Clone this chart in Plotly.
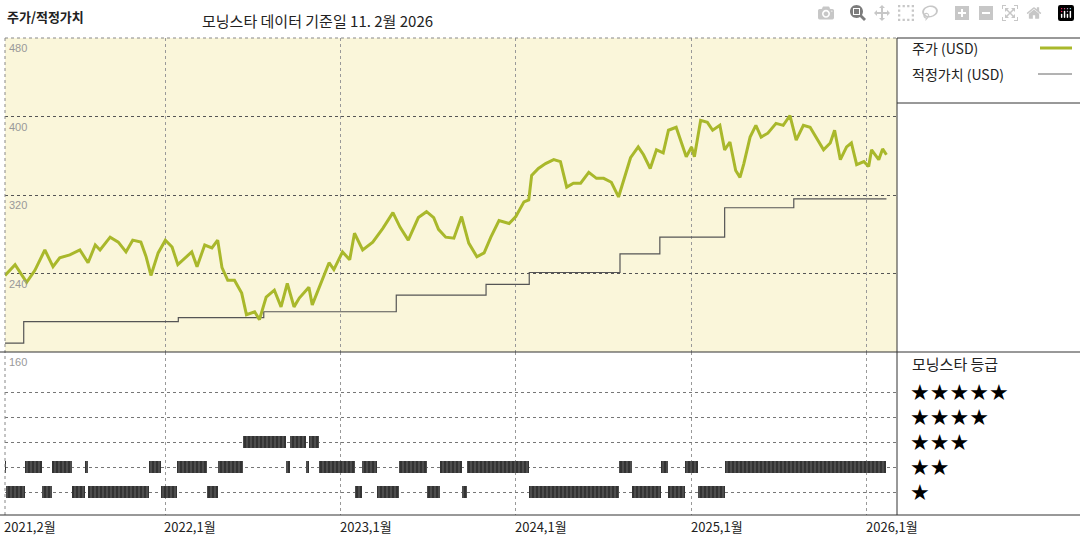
import plotly.graph_objects as go
import pandas as pd

price_dates = ["2021-02-01","2021-02-22","2021-03-18","2021-04-04","2021-04-25","2021-05-12","2021-05-26","2021-06-16","2021-07-07","2021-07-24","2021-08-08","2021-08-18","2021-09-08","2021-09-25","2021-10-11","2021-10-25","2021-11-11","2021-11-22","2021-12-02","2021-12-17",
"2022-01-01","2022-01-15","2022-01-27","2022-02-11","2022-02-25","2022-03-08","2022-03-24","2022-04-08","2022-04-20","2022-04-29","2022-05-11","2022-05-25","2022-06-09","2022-06-19","2022-07-06","2022-07-16","2022-07-30","2022-08-16","2022-08-30","2022-09-12","2022-09-26","2022-10-07","2022-10-27","2022-11-03","2022-11-17","2022-12-08","2022-12-18",
"2023-01-05","2023-01-20","2023-01-30","2023-02-16","2023-03-09","2023-03-30","2023-04-20","2023-05-05","2023-05-22","2023-06-12","2023-06-29","2023-07-14","2023-07-24","2023-08-08","2023-08-25","2023-09-10","2023-09-25","2023-10-12","2023-10-27","2023-11-10","2023-11-27","2023-12-18",
"2024-01-01","2024-01-18","2024-01-28","2024-02-03","2024-02-17","2024-03-03","2024-03-20","2024-04-03","2024-04-16","2024-04-30","2024-05-15","2024-06-01","2024-06-17","2024-07-02","2024-07-18","2024-08-02","2024-08-12","2024-08-27","2024-09-12","2024-09-23","2024-10-07","2024-10-20","2024-11-03","2024-11-14","2024-11-30","2024-12-14","2024-12-21",
"2025-01-01","2025-01-07","2025-01-20","2025-02-03","2025-02-14","2025-03-01","2025-03-11","2025-03-22","2025-04-03","2025-04-12","2025-04-20","2025-05-03","2025-05-15","2025-05-26","2025-06-09","2025-06-26","2025-07-11","2025-07-25","2025-08-07","2025-08-22","2025-09-05","2025-09-18","2025-10-03","2025-10-17","2025-10-26","2025-11-07","2025-11-20","2025-11-30","2025-12-11","2025-12-26",
"2026-01-05","2026-01-11","2026-01-26","2026-02-03","2026-02-11"]
price_values = [238,249,231,243,264,247,256,259,264,251,269,264,277,272,262,274,272,257,238,261,
274,267,249,256,262,247,269,266,274,246,233,233,220,198,201,193,216,223,206,230,206,215,226,208,226,251,244,
262,254,281,264,272,286,302,287,274,297,303,297,285,277,276,298,271,257,261,277,294,291,
298,313,315,340,347,352,356,354,328,332,332,343,337,337,333,318,335,358,369,361,347,366,363,386,389,369,359,
369,359,396,394,386,391,366,374,345,338,352,379,391,379,383,393,391,401,376,391,389,378,366,373,386,356,369,373,351,354,
349,366,356,367,361]

fv_dates = ["2021-02-01","2021-03-12","2022-01-28","2022-07-25","2023-04-27","2023-10-31","2024-01-29","2024-08-05","2024-10-27","2025-03-11","2025-08-02","2026-02-11"]
fv_values = [169,191,195,201,218,229,241,260,277,307,316,316]

rating_dates = ["2021-02-01","2021-02-03","2021-03-14","2021-04-19","2021-05-10","2021-06-21","2021-07-18","2021-07-24","2021-11-28","2021-12-23",
"2022-01-26","2022-03-28","2022-04-21","2022-06-11","2022-09-09","2022-09-17","2022-10-22","2022-10-28","2022-11-18",
"2023-02-01","2023-02-14","2023-03-17","2023-05-02","2023-06-30","2023-07-27","2023-09-11","2023-09-22",
"2024-01-29","2024-08-03","2024-08-30","2024-10-29","2024-11-13","2024-12-18","2025-01-15","2025-03-11","2026-02-11"]
rating_values = [2,1,2,1,2,1,2,1,2,1,2,1,2,3,2,3,2,3,2,1,2,1,2,1,2,1,2,1,2,1,2,1,2,1,2]

year_ticks = ["2022-01-01","2023-01-01","2024-01-01","2025-01-01","2026-01-01"]
x_labels = ["2021,2월","2022,1월","2023,1월","2024,1월","2025,1월","2026,1월"]
x_label_dates = ["2021-02-01"] + year_ticks
y_ticks = [480,400,320,240,160]
star_rows = [5,4,3,2,1]

FONT = "Noto Sans CJK KR"
W, H = 1080, 540
x0, x1 = 5/W, 897/W
top_dom = [(H-352)/H, (H-38)/H]
bot_dom = [(H-515)/H, (H-352)/H]

fig = go.Figure()
fig.add_trace(go.Scatter(x=fv_dates, y=fv_values, mode="lines", line=dict(color="#555555", width=1.2, shape="hv"),
                         xaxis="x", yaxis="y"))
fig.add_trace(go.Scatter(x=price_dates, y=price_values, mode="lines", line=dict(color="#a9b82b", width=3),
                         xaxis="x", yaxis="y"))

rd = pd.to_datetime(rating_dates)
mids, widths, bases = [], [], []
for i, r in enumerate(rating_values):
    a, b = rd[i], rd[i+1]
    mids.append(a + (b - a)/2)
    widths.append((b - a).total_seconds()*1000)
    bases.append(r - 0.24)
fig.add_trace(go.Bar(x=mids, y=[0.48]*len(mids), base=bases, width=widths, xaxis="x2", yaxis="y2",
                     marker=dict(color="#3a3a3a", line=dict(width=0),
                                 pattern=dict(shape="|", fgcolor="#9a9a9a", bgcolor="#333333", size=4, solidity=0.25))))

xrange = ["2021-02-01", "2026-03-05"]
common_x = dict(type="date", range=xrange, domain=[x0, x1], showgrid=True, gridcolor="#999999", griddash="dot",
                gridwidth=1, tickvals=year_ticks, showticklabels=False, zeroline=False, showline=False)
fig.update_layout(
    width=W, height=H, margin=dict(l=0, r=0, t=0, b=0), showlegend=False, hovermode=False,
    paper_bgcolor="white", plot_bgcolor="rgba(0,0,0,0)", bargap=0,
    font=dict(family=FONT, color="#222222"),
    xaxis=dict(anchor="y", **common_x),
    xaxis2=dict(anchor="y2", **common_x),
    yaxis=dict(domain=top_dom, range=[160, 480], tickvals=[240, 320, 400], showticklabels=False, showgrid=True,
               gridcolor="#555555", griddash="dot", zeroline=False),
    yaxis2=dict(domain=bot_dom, range=[0.08, 6.6], tickvals=[1, 2, 3, 4, 5], showticklabels=False, showgrid=True,
                gridcolor="#777777", griddash="dot", zeroline=False),
)

shapes = []
shapes.append(dict(type="rect", xref="paper", yref="paper", x0=x0, x1=x1, y0=top_dom[0], y1=top_dom[1],
                   fillcolor="#faf6da", line=dict(width=0), layer="below"))
def hl(y, xa, xb, color="#333333", dash="solid", w=1):
    shapes.append(dict(type="line", xref="paper", yref="paper", x0=xa, x1=xb, y0=y, y1=y, line=dict(color=color, width=w, dash=dash)))
def vl(x, ya, yb, color="#333333", dash="solid", w=1):
    shapes.append(dict(type="line", xref="paper", yref="paper", x0=x, x1=x, y0=ya, y1=yb, line=dict(color=color, width=w, dash=dash)))
hl(top_dom[1], x0, x1, "#888888", "dot")
hl(top_dom[1], x1, 1, "#333333")
vl(x0, bot_dom[0], top_dom[1], "#888888", "dot")
vl(x1, bot_dom[0], top_dom[1], "#333333")
hl((H-103)/H, x1, 1)
hl(top_dom[0], 0, 1)
hl(bot_dom[0], 0, 1)
hl((H-48)/H, 1040/W, 1072/W, "#a9b82b", w=3)
hl((H-74)/H, 1038/W, 1072/W, "#666666", w=1)
fig.update_layout(shapes=shapes)

ann = []
ann.append(dict(text="<b>주가/적정가치</b>", x=5/W, y=(H-17)/H, xref="paper", yref="paper", xanchor="left", yanchor="middle",
                showarrow=False, font=dict(size=13, color="#222")))
ann.append(dict(text="모닝스타 데이터 기준일 11. 2월 2026", x=200/W, y=(H-20)/H, xref="paper", yref="paper", xanchor="left",
                yanchor="middle", showarrow=False, font=dict(size=15, color="#222")))
for v in y_ticks:
    ann.append(dict(text=str(v), x=x0 + 2/W, y=v, xref="paper", yref="y", xanchor="left", yanchor="top", yshift=-2,
                    showarrow=False, font=dict(size=11, color="#999999", family="Liberation Sans")))
for d, t in zip(x_label_dates, x_labels):
    ann.append(dict(text=t, x=d, y=bot_dom[0], xref="x2", yref="paper", xanchor="left", yanchor="top", xshift=-3,
                    showarrow=False, font=dict(size=13, color="#222")))
ann.append(dict(text="주가 (USD)", x=910/W, y=(H-48)/H, xref="paper", yref="paper", xanchor="left", yanchor="middle",
                showarrow=False, font=dict(size=14)))
ann.append(dict(text="적정가치 (USD)", x=910/W, y=(H-74)/H, xref="paper", yref="paper", xanchor="left", yanchor="middle",
                showarrow=False, font=dict(size=14)))
ann.append(dict(text="모닝스타 등급", x=910/W, y=(H-363)/H, xref="paper", yref="paper", xanchor="left", yanchor="middle",
                showarrow=False, font=dict(size=15)))
for n in star_rows:
    ann.append(dict(text="★"*n, x=908/W, y=n, xref="paper", yref="y2", xanchor="left", yanchor="middle",
                    showarrow=False, font=dict(size=22, color="#000", family="DejaVu Sans")))
fig.update_layout(annotations=ann)

fig.write_html("out.html", post_script="document.body.style.margin='0';document.body.style.overflow='hidden';")
